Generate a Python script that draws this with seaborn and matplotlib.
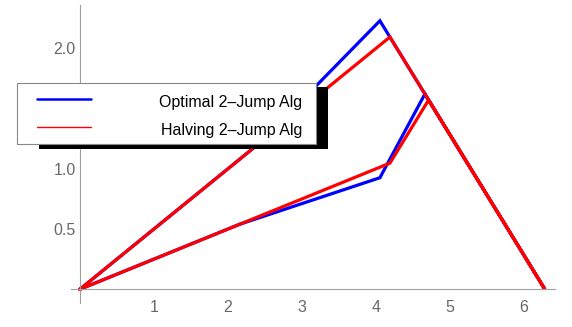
import numpy as np
import pandas as pd
import matplotlib
matplotlib.use("Agg")
import matplotlib.pyplot as plt
import seaborn as sns
from matplotlib.patches import Rectangle
from matplotlib.lines import Line2D
from matplotlib.ticker import MultipleLocator, FormatStrFormatter

# path of each algorithm (drawn in order, closed loop)
optimal_x = [0.0, 2.466, 4.054, 6.283, 4.662, 4.054, 2.16, 0.0]
optimal_y = [0.0, 1.233, 2.229, 0.0, 1.621, 0.926, 0.54, 0.0]
halving_x = [0.0, 4.189, 6.283, 4.712, 4.189, 0.0]
halving_y = [0.0, 2.094, 0.0, 1.571, 1.047, 0.0]

series_names = ["Optimal 2\u2013Jump Alg", "Halving 2\u2013Jump Alg"]
series_colors = ["#0000ff", "#ff0000"]
x_ticks = [1, 2, 3, 4, 5, 6]
y_ticks = [0.5, 1.0, 1.5, 2.0]

df = pd.concat([
    pd.DataFrame({"x": optimal_x, "y": optimal_y, "alg": series_names[0]}),
    pd.DataFrame({"x": halving_x, "y": halving_y, "alg": series_names[1]}),
], ignore_index=True)

sns.set_style("white")
plt.rcParams["font.family"] = ["Liberation Sans", "DejaVu Sans"]
plt.rcParams["lines.solid_joinstyle"] = "miter"

W, H = 572, 327
fig = plt.figure(figsize=(W / 100, H / 100), dpi=100)
ax = fig.add_axes([71 / W, 1 - 303 / H, 484 / W, 298 / H])

sns.lineplot(data=df, x="x", y="y", hue="alg", sort=False, estimator=None,
             palette=dict(zip(series_names, series_colors)), linewidth=2.3,
             legend=False, ax=ax)

ax.set_xlim(-0.12, 6.42)
ax.set_ylim(-0.114, 2.36)
ax.set_xlabel("")
ax.set_ylabel("")

axis_gray = "#a0a0a0"
for s in ["top", "right"]:
    ax.spines[s].set_visible(False)
for s in ["left", "bottom"]:
    ax.spines[s].set_position(("data", 0))
    ax.spines[s].set_color(axis_gray)
    ax.spines[s].set_linewidth(0.8)

ax.set_xticks(x_ticks)
ax.set_yticks(y_ticks)
ax.xaxis.set_minor_locator(MultipleLocator(0.2))
ax.yaxis.set_minor_locator(MultipleLocator(0.1))
ax.yaxis.set_major_formatter(FormatStrFormatter("%.1f"))
ax.tick_params(which="major", direction="in", length=3.1, width=0.8,
               color=axis_gray, labelsize=11.5, labelcolor="#686868")
ax.tick_params(which="minor", direction="in", length=1.7, width=0.7, color=axis_gray)
ax.tick_params(axis="x", which="major", pad=8)
ax.tick_params(axis="y", which="major", pad=2.9)

# legend box with black drop shadow (Mathematica style)
def fx(px):
    return px / W

def fy(py):
    return 1 - py / H

fig.add_artist(Rectangle((fx(39.3), fy(149.3)), fx(328.3) - fx(39.3), fy(86.7) - fy(149.3),
                         transform=fig.transFigure, facecolor="black", edgecolor="none", zorder=5))
fig.add_artist(Rectangle((fx(17.3), fy(144)), fx(316) - fx(17.3), fy(82.7) - fy(144),
                         transform=fig.transFigure, facecolor="white", edgecolor="#888888",
                         linewidth=0.8, zorder=6))
fig.add_artist(Line2D([fx(37), fx(91)], [fy(99), fy(99)], transform=fig.transFigure,
                      color=series_colors[0], linewidth=1.8, zorder=7))
fig.add_artist(Line2D([fx(37), fx(91)], [fy(127), fy(127)], transform=fig.transFigure,
                      color=series_colors[1], linewidth=1.0, zorder=7))
fig.text(fx(302), fy(106.7), series_names[0], ha="right", va="baseline",
         fontsize=11.5, color="black", zorder=8)
fig.text(fx(302), fy(135), series_names[1], ha="right", va="baseline",
         fontsize=11.5, color="black", zorder=8)

fig.savefig("out.png", dpi=100)
